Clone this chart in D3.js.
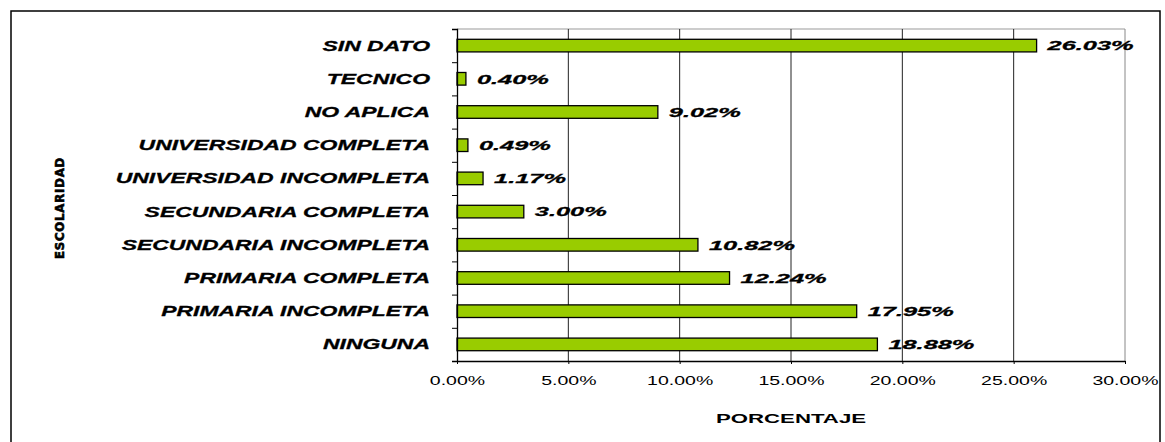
<!DOCTYPE html>
<html>
<head>
<meta charset="utf-8">
<script src="https://cdn.jsdelivr.net/npm/d3@7"></script>
<style>
	body { margin: 0; background: #fff; }
	svg { display: block; }
	text { font-family: "Liberation Sans", Arial, sans-serif; fill: #000; }
</style>
</head>
<body>
<svg id="chart" width="1165" height="442"></svg>
<script>
// DATA
var categories = ["SIN DATO","TECNICO","NO APLICA","UNIVERSIDAD COMPLETA","UNIVERSIDAD INCOMPLETA","SECUNDARIA COMPLETA","SECUNDARIA INCOMPLETA","PRIMARIA COMPLETA","PRIMARIA INCOMPLETA","NINGUNA"];
var values = [26.03, 0.40, 9.02, 0.49, 1.17, 3.00, 10.82, 12.24, 17.95, 18.88];
var xTicks = [0, 5, 10, 15, 20, 25, 30];
var xTitle = "PORCENTAJE";
var yTitle = "ESCOLARIDAD";

(function() {
	var svg = d3.select('#chart');
	var left = 457, right = 1125, top = 29, bottom = 361;

	// outer frame (bottom edge runs off the picture)
	svg.append('rect')
		.attr('x', 11).attr('y', 11)
		.attr('width', 1149).attr('height', 460)
		.attr('fill', 'none').attr('stroke', '#000').attr('stroke-width', 1.5);

	var x = d3.scaleLinear().domain([0, 30]).range([left, right]);
	var y = d3.scaleBand().domain(categories).range([top, bottom]).paddingInner(0.62).paddingOuter(0.31);
	var yEdge = d3.scaleLinear().domain([0, categories.length]).range([top, bottom]);

	// plot frame top
	svg.append('line')
		.attr('x1', left).attr('x2', right).attr('y1', top).attr('y2', top)
		.attr('stroke', '#999').attr('stroke-width', 1);

	// gridlines
	svg.append('g').selectAll('line')
		.data(xTicks.slice(1))
		.enter().append('line')
		.attr('x1', function(d) { return x(d); })
		.attr('x2', function(d) { return x(d); })
		.attr('y1', top).attr('y2', bottom)
		.attr('stroke', function(d) { return d == 30 ? '#888' : '#222'; })
		.attr('stroke-width', 1);

	// bars
	svg.append('g').selectAll('rect')
		.data(values)
		.enter().append('rect')
		.attr('x', x(0))
		.attr('y', function(d, i) { return y(categories[i]); })
		.attr('width', function(d) { return x(d) - x(0); })
		.attr('height', y.bandwidth())
		.attr('fill', '#99cc00')
		.attr('stroke', '#000').attr('stroke-width', 1.3);

	// value labels
	svg.append('g').selectAll('text')
		.data(values)
		.enter().append('text')
		.attr('transform', function(d, i) {
			return 'translate(' + (x(d) + 11) + ',' + (y(categories[i]) + y.bandwidth() / 2 + 4.8) + ') scale(1.88,1)';
		})
		.style('font-size', '13.5px').style('font-weight', 'bold').style('font-style', 'italic')
		.style('stroke', '#000').style('stroke-width', 0.3)
		.text(function(d) { return d.toFixed(2) + '%'; });

	// category labels
	svg.append('g').selectAll('text')
		.data(categories)
		.enter().append('text')
		.attr('transform', function(d) {
			return 'translate(430,' + (y(d) + y.bandwidth() / 2 + 5) + ') scale(1.53,1)';
		})
		.attr('text-anchor', 'end')
		.style('font-size', '15px').style('font-weight', 'bold').style('font-style', 'italic')
		.style('stroke', '#000').style('stroke-width', 0.3)
		.text(function(d) { return d; });

	// y axis
	var yAxis = svg.append('g')
		.attr('transform', 'translate(' + left + ',0)')
		.call(d3.axisLeft(yEdge).ticks(categories.length).tickSize(5).tickFormat(''));
	yAxis.select('.domain').attr('stroke', '#000').attr('stroke-width', 1.3);

	// x axis
	var xAxis = svg.append('g')
		.attr('transform', 'translate(0,' + bottom + ')')
		.call(d3.axisBottom(x).tickValues(xTicks).tickSize(3).tickSizeOuter(0)
			.tickFormat(function(d) { return d.toFixed(2) + '%'; }));
	xAxis.select('.domain').attr('stroke', '#000').attr('stroke-width', 1.3);
	xAxis.selectAll('.tick line').attr('stroke', '#000');
	xAxis.selectAll('.tick text')
		.attr('y', 0).attr('dy', 0)
		.attr('transform', 'translate(0,24) scale(1.5,1)')
		.style('font-family', '"Liberation Sans", Arial, sans-serif')
		.style('font-size', '13px').attr('fill', '#000');

	// axis titles
	svg.append('text')
		.attr('transform', 'translate(' + ((left + right) / 2) + ',422.5) scale(1.71,1)')
		.attr('text-anchor', 'middle')
		.style('font-size', '13px').style('font-weight', 'bold')
		.text(xTitle);

	svg.append('text')
		.attr('transform', 'translate(64,208) rotate(-90)')
		.attr('text-anchor', 'middle')
		.style('font-family', '"DejaVu Sans Condensed", "DejaVu Sans", sans-serif')
		.style('font-size', '13px').style('font-weight', 'bold').style('letter-spacing', '0.8px')
		.style('stroke', '#000').style('stroke-width', 0.6)
		.text(yTitle);
})()
</script>
</body>
</html>
